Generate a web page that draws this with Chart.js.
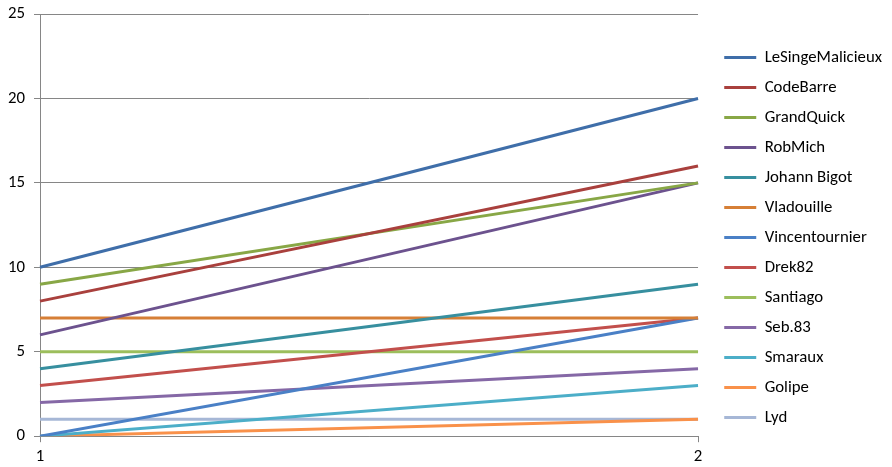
<!DOCTYPE html>
<html>
<head>
<meta charset="utf-8">
<script src="https://cdn.jsdelivr.net/npm/chart.js@4"></script>
<style>
html,body{margin:0;padding:0;background:#fff;}
#wrap{width:892px;height:467px;}
</style>
</head>
<body>
<div id="wrap"><canvas id="c" width="892" height="467"></canvas></div>
<script>
const categories = ["1", "2"];
const seriesNames = ["LeSingeMalicieux","CodeBarre","GrandQuick","RobMich","Johann Bigot","Vladouille","Vincentournier","Drek82","Santiago","Seb.83","Smaraux","Golipe","Lyd"];
const LeSingeMalicieux = [10, 20];
const CodeBarre = [8, 16];
const GrandQuick = [9, 15];
const RobMich = [6, 15];
const JohannBigot = [4, 9];
const Vladouille = [7, 7];
const Vincentournier = [0, 7];
const Drek82 = [3, 7];
const Santiago = [5, 5];
const Seb83 = [2, 4];
const Smaraux = [0, 3];
const Golipe = [0, 1];
const Lyd = [1, 1];
const yTicks = [0, 5, 10, 15, 20, 25];

const seriesValues = [LeSingeMalicieux, CodeBarre, GrandQuick, RobMich, JohannBigot, Vladouille, Vincentournier, Drek82, Santiago, Seb83, Smaraux, Golipe, Lyd];
const colors = ["#3F6EA9","#A9403D","#88A746","#6C528E","#378F9F","#D67F36","#4A80C6","#C24F4C","#9CBE5C","#8568A6","#4CAEC8","#F9914A","#A6B7D6"];

const FONT = "'Carlito','Lato',sans-serif";

const legendShift = {
  id: 'legendShift',
  afterLayout(chart) {
    const l = chart.legend;
    if (!l) return;
    l.left += 13; l.right += 13;
    l.top -= 5; l.bottom -= 5;
  }
};

new Chart(document.getElementById('c'), {
  type: 'line',
  data: {
    labels: categories,
    datasets: seriesNames.map((n, i) => ({
      label: n,
      data: seriesValues[i],
      borderColor: colors[i],
      backgroundColor: colors[i],
      borderWidth: 3,
      pointRadius: 0,
      tension: 0,
      fill: false
    }))
  },
  plugins: [legendShift],
  options: {
    responsive: false,
    animation: false,
    devicePixelRatio: 1,
    layout: { padding: { left: -1, right: 13, top: 14, bottom: -4 } },
    plugins: {
      legend: {
        position: 'right',
        align: 'center',
        labels: {
          usePointStyle: true,
          pointStyle: 'line',
          pointStyleWidth: 32,
          boxHeight: 3,
          padding: 13.2,
          color: '#000',
          font: { family: FONT, size: 16.8 }
        }
      },
      tooltip: { enabled: false }
    },
    scales: {
      x: {
        offset: false,
        grid: { display: true, drawOnChartArea: false, drawTicks: true, tickLength: 6, color: '#868686', lineWidth: 1 },
        border: { color: '#868686', width: 1 },
        ticks: { color: '#000', padding: 6, font: { family: FONT, size: 16.8, lineHeight: 1.0 }, maxRotation: 0 }
      },
      y: {
        min: 0, max: 25,
        afterBuildTicks: (s) => { s.ticks = yTicks.map(v => ({ value: v })); },
        grid: { color: '#868686', lineWidth: 1, tickLength: 6 },
        border: { color: '#868686', width: 1 },
        ticks: { color: '#000', padding: 9, font: { family: FONT, size: 16.8, lineHeight: 0.5 } }
      }
    }
  }
});
</script>
</body>
</html>
